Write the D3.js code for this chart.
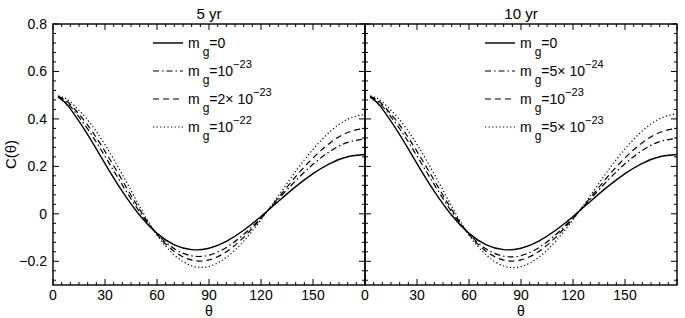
<!DOCTYPE html>
<html><head><meta charset="utf-8">
<script src="https://cdn.jsdelivr.net/npm/d3@7"></script>
<style>body{margin:0;background:#fff}svg{display:block}text{font-family:"Liberation Sans",Arial,sans-serif;fill:#000}</style>
</head><body><svg id="c" width="685" height="318"></svg>
<script>
const theta = [3,6,10,20,30,40,50,60,70,80,90,100,110,120,130,140,150,160,170,180];
// 5 yr panel
const left_m0   = [0.4923,0.4751,0.4425,0.3341,0.2116,0.0942,-0.0062,-0.0824,-0.1309,-0.1511,-0.1449,-0.1159,-0.0693,-0.0111,0.0522,0.1145,0.1697,0.2130,0.2405,0.2500];
const left_m1   = [0.4943,0.4810,0.4536,0.3575,0.2422,0.1215,0.0081,-0.0850,-0.1472,-0.1771,-0.1742,-0.1419,-0.0869,-0.0163,0.0613,0.1392,0.2087,0.2644,0.3010,0.3150];
const left_m2   = [0.4956,0.4850,0.4612,0.3737,0.2633,0.1404,0.0180,-0.0868,-0.1584,-0.1951,-0.1944,-0.1599,-0.0990,-0.0199,0.0676,0.1563,0.2357,0.2999,0.3428,0.3600];
const left_m3   = [0.4974,0.4904,0.4714,0.3953,0.2915,0.1656,0.0312,-0.0892,-0.1734,-0.2191,-0.2214,-0.1839,-0.1152,-0.0247,0.0760,0.1791,0.2717,0.3473,0.3986,0.4200];
// 10 yr panel
const right_m0  = [0.4923,0.4751,0.4425,0.3341,0.2116,0.0942,-0.0062,-0.0824,-0.1309,-0.1511,-0.1449,-0.1159,-0.0693,-0.0111,0.0522,0.1145,0.1697,0.2130,0.2405,0.2500];
const right_m1  = [0.4943,0.4812,0.4541,0.3586,0.2436,0.1228,0.0088,-0.0851,-0.1482,-0.1787,-0.1760,-0.1436,-0.0880,-0.0166,0.0620,0.1405,0.2110,0.2672,0.3040,0.3180];
const right_m2  = [0.4956,0.4850,0.4612,0.3737,0.2633,0.1404,0.0180,-0.0868,-0.1584,-0.1951,-0.1944,-0.1599,-0.0990,-0.0199,0.0676,0.1563,0.2357,0.2999,0.3428,0.3600];
const right_m3  = [0.4975,0.4907,0.4719,0.3964,0.2929,0.1669,0.0319,-0.0893,-0.1740,-0.2200,-0.2224,-0.1847,-0.1157,-0.0249,0.0765,0.1802,0.2733,0.3494,0.4010,0.4230];

const titles = ["5 yr","10 yr"];
const xTicks = [0,30,60,90,120,150];
const yTicks = [-0.2,0,0.2,0.4,0.6,0.8];
const leftLabels  = [["=0",""],["=10","\u221223"],["=2\u00d7 10","\u221223"],["=10","\u221222"]];
const rightLabels = [["=0",""],["=5\u00d7 10","\u221224"],["=10","\u221223"],["=5\u00d7 10","\u221223"]];

const styles = [null,"6,3,1.5,3","6,4","1.2,2.4"];

const svg = d3.select("#c");
const y = d3.scaleLinear().domain([-0.3,0.8]).range([285,24]);
const panels = [
  {x0:53, x1:365, series:[left_m0,left_m1,left_m2,left_m3], labels:leftLabels, title:titles[0], legX:153, ylab:true},
  {x0:365, x1:677, series:[right_m0,right_m1,right_m2,right_m3], labels:rightLabels, title:titles[1], legX:485, ylab:false}
];

panels.forEach(p => {
  const x = d3.scaleLinear().domain([0,180]).range([p.x0,p.x1]);
  const g = svg.append("g");
  const line = d3.line().x((d,i)=>x(theta[i])).y(d=>y(d)).curve(d3.curveNatural);
  p.series.forEach((s,k)=>{
    g.append("path").attr("d",line(s)).attr("fill","none").attr("stroke","#000")
     .attr("stroke-width",k===0?1.4:1.2).attr("stroke-dasharray",styles[k]);
  });
  g.append("rect").attr("x",p.x0).attr("y",y(0.8)).attr("width",p.x1-p.x0).attr("height",y(-0.3)-y(0.8))
   .attr("fill","none").attr("stroke","#000").attr("stroke-width",1.4);
  d3.range(0,181,5).forEach(t=>{
    const len = t%30===0 ? 6 : 3;
    [[y(-0.3),-len],[y(0.8),len]].forEach(([yy,dl])=>{
      g.append("line").attr("x1",x(t)).attr("x2",x(t)).attr("y1",yy).attr("y2",yy+dl).attr("stroke","#000").attr("stroke-width",1);
    });
  });
  d3.range(-0.28,0.81,0.04).forEach(t=>{
    const major = Math.abs(Math.round(t*5)-t*5)<1e-6;
    const len = major ? 6 : 3;
    [[p.x0,len],[p.x1,-len]].forEach(([xx,dl])=>{
      g.append("line").attr("x1",xx).attr("x2",xx+dl).attr("y1",y(t)).attr("y2",y(t)).attr("stroke","#000").attr("stroke-width",1);
    });
  });
  xTicks.forEach(t=>{
    g.append("text").attr("x",x(t)).attr("y",299.5).attr("text-anchor","middle").attr("font-size",14).text(t);
  });
  if(p.ylab){
    yTicks.forEach(t=>{
      g.append("text").attr("x",p.x0-6).attr("y",y(t)+5).attr("text-anchor","end").attr("font-size",14)
       .text(t===0?"0":d3.format(".1f")(t).replace("-","\u2212"));
    });
    g.append("text").attr("transform",`translate(16,${y(0.25)}) rotate(-90)`).attr("text-anchor","middle").attr("font-size",15).text("C(\u03b8)");
  }
  g.append("text").attr("x",(p.x0+p.x1)/2).attr("y",315.5).attr("text-anchor","middle").attr("font-size",14).text("\u03b8");
  g.append("text").attr("x",(p.x0+p.x1)/2).attr("y",19).attr("text-anchor","middle").attr("font-size",15).text(p.title);
  p.labels.forEach((lab,k)=>{
    const ly = 43 + k*28;
    g.append("line").attr("x1",p.legX).attr("x2",p.legX+30).attr("y1",ly).attr("y2",ly).attr("stroke","#000")
     .attr("stroke-width",k===0?1.4:1.2).attr("stroke-dasharray",styles[k]);
    const t = g.append("text").attr("x",p.legX+35).attr("y",ly+5).attr("font-size",14);
    t.append("tspan").text("m");
    t.append("tspan").attr("dx",3).attr("dy",8).attr("font-size",12).text("g");
    t.append("tspan").attr("dy",-8).text(lab[0]);
    if(lab[1]) t.append("tspan").attr("dy",-8).attr("font-size",11).text(lab[1]);
  });
});
</script></body></html>
